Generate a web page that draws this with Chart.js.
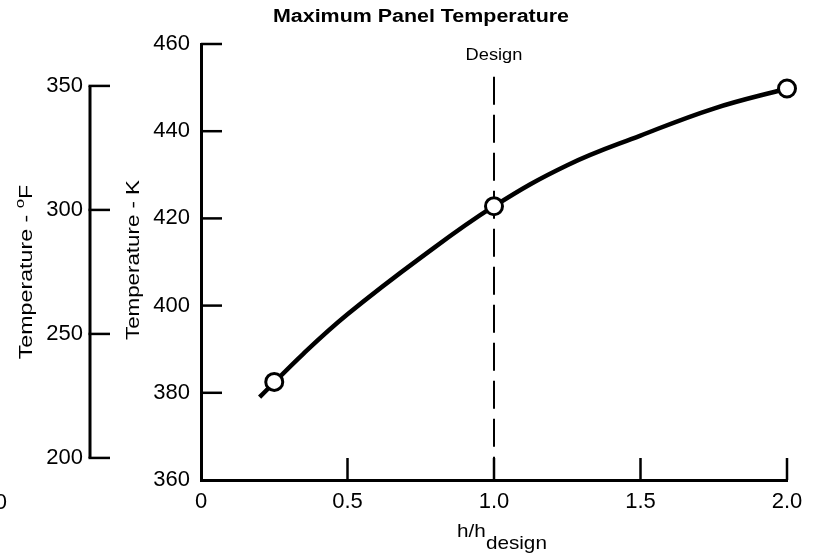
<!DOCTYPE html>
<html>
<head>
<meta charset="utf-8">
<script src="https://cdn.jsdelivr.net/npm/chart.js@4.4.1/dist/chart.umd.min.js"></script>
<style>
  html, body { margin: 0; padding: 0; background: #fff; }
</style>
</head>
<body>
<canvas id="tempChart" width="825" height="557"></canvas>
<script>
// max panel temperature vs heat transfer ratio h/h_design
const ratio = [0.2, 0.35, 0.5, 0.75, 1.0, 1.25, 1.5, 1.75, 2.0];
const tempK = [379, 389, 398, 411, 422.8, 432.2, 439, 445.2, 449.8];

// computed points (open circles)
const pointRatio = [0.25, 1.0, 2.0];
const pointTempK = [382.5, 422.8, 449.8];

const xTicks = [0, 0.5, 1.0, 1.5, 2.0];
const kTicks = [360, 380, 400, 420, 440, 460];
const fTicks = [200, 250, 300, 350];

const designRatio = 1.0;
const designTop = 452.5;

const FONT = '"Liberation Sans", Arial, Helvetica, sans-serif';

function toXY(xs, ys) {
  return xs.map((x, i) => ({ x: x, y: ys[i] }));
}

// draw text squeezed/stretched horizontally
function wideText(ctx, text, x, y, sx) {
  ctx.save();
  ctx.translate(x, y);
  ctx.scale(sx, 1);
  ctx.fillText(text, 0, 0);
  ctx.restore();
}

const decor = {
  id: "decor",
  afterDraw(chart) {
    const ctx = chart.ctx;
    const xs = chart.scales.x;
    const ks = chart.scales.y;
    const fs = chart.scales.yF;
    const area = chart.chartArea;

    ctx.save();
    ctx.strokeStyle = "#000";
    ctx.fillStyle = "#000";
    ctx.lineCap = "butt";

    // inward tick marks
    ctx.lineWidth = 2.5;
    xTicks.forEach((v) => {
      if (v === 0) return;
      const px = xs.getPixelForValue(v);
      ctx.beginPath();
      ctx.moveTo(px, area.bottom);
      ctx.lineTo(px, area.bottom - 22);
      ctx.stroke();
    });
    kTicks.forEach((v) => {
      if (v === 360) return;
      const py = ks.getPixelForValue(v);
      ctx.beginPath();
      ctx.moveTo(area.left, py);
      ctx.lineTo(area.left + 21, py);
      ctx.stroke();
    });

    // deg F axis, only as long as its tick range
    const fx = fs.right - 5;
    ctx.lineWidth = 3;
    ctx.beginPath();
    ctx.moveTo(fx, fs.getPixelForValue(fTicks[0]));
    ctx.lineTo(fx, fs.getPixelForValue(fTicks[fTicks.length - 1]));
    ctx.stroke();
    ctx.lineWidth = 2.5;
    fTicks.forEach((v) => {
      const py = fs.getPixelForValue(v);
      ctx.beginPath();
      ctx.moveTo(fx - 1.5, py);
      ctx.lineTo(fx + 20, py);
      ctx.stroke();
    });

    // title
    ctx.textAlign = "center";
    ctx.textBaseline = "middle";
    ctx.font = "bold 18px " + FONT;
    wideText(ctx, "Maximum Panel Temperature", 421, 17, 1.19);

    // design marker label
    ctx.font = "16px " + FONT;
    wideText(ctx, "Design", xs.getPixelForValue(designRatio), 56, 1.14);

    // x title: h/h with subscript
    ctx.textAlign = "left";
    ctx.textBaseline = "alphabetic";
    ctx.font = "19px " + FONT;
    const w1 = ctx.measureText("h/h").width;
    const w2 = ctx.measureText("design").width;
    const sx = 1.09;
    const x0 = 502 - ((w1 + w2) * sx) / 2;
    wideText(ctx, "h/h", x0, 537, sx);
    wideText(ctx, "design", x0 + w1 * sx, 549, sx);

    // y titles, rotated
    ctx.save();
    ctx.translate(139, 260);
    ctx.rotate(-Math.PI / 2);
    ctx.scale(1.24, 1);
    ctx.font = "18px " + FONT;
    ctx.textAlign = "center";
    ctx.fillText("Temperature - K", 0, 0);
    ctx.restore();

    ctx.save();
    ctx.translate(32, 272);
    ctx.rotate(-Math.PI / 2);
    ctx.scale(1.29, 1);
    ctx.textAlign = "left";
    ctx.font = "18px " + FONT;
    const a = ctx.measureText("Temperature - ").width;
    ctx.font = "13px " + FONT;
    const b = ctx.measureText("o").width;
    ctx.font = "18px " + FONT;
    const c = ctx.measureText("F").width;
    let tx = -(a + b + c) / 2;
    ctx.fillText("Temperature - ", tx, 0);
    tx += a;
    ctx.font = "13px " + FONT;
    ctx.fillText("o", tx, -8);
    tx += b;
    ctx.font = "18px " + FONT;
    ctx.fillText("F", tx, 0);
    ctx.restore();

    // clipped label at the left edge
    ctx.font = "22px " + FONT;
    ctx.textAlign = "right";
    ctx.textBaseline = "middle";
    ctx.fillText("0", 7, 503);

    ctx.restore();
  },
};

const ctx = document.getElementById("tempChart").getContext("2d");
new Chart(ctx, {
  type: "line",
  data: {
    datasets: [
      {
        label: "points",
        data: toXY(pointRatio, pointTempK),
        showLine: false,
        pointRadius: 8.5,
        pointBorderWidth: 3,
        pointBackgroundColor: "#fff",
        pointBorderColor: "#000",
        clip: false,
        order: 0,
      },
      {
        label: "temperature",
        data: toXY(ratio, tempK),
        borderColor: "#000",
        borderWidth: 4.5,
        pointRadius: 0,
        tension: 0.4,
        fill: false,
        clip: false,
        order: 1,
      },
      {
        label: "design",
        data: [
          { x: designRatio, y: designTop },
          { x: designRatio, y: 360 },
        ],
        borderColor: "#000",
        borderWidth: 2,
        borderDash: [28, 10],
        pointRadius: 0,
        order: 2,
      },
    ],
  },
  options: {
    responsive: false,
    animation: false,
    devicePixelRatio: 1,
    layout: { padding: { left: 0, right: 38, top: 44, bottom: 0 } },
    plugins: {
      legend: { display: false },
      tooltip: { enabled: false },
      title: { display: false },
    },
    scales: {
      x: {
        type: "linear",
        position: "bottom",
        min: 0,
        max: 2,
        afterBuildTicks: (s) => { s.ticks = xTicks.map((v) => ({ value: v })); },
        afterFit: (s) => { s.height = 77; },
        grid: { display: false, drawTicks: false },
        border: { display: true, color: "#000", width: 3 },
        ticks: {
          color: "#000",
          font: { family: FONT, size: 22 },
          padding: 9,
          maxRotation: 0,
          callback: (v) => (v === 0 ? "0" : v.toFixed(1)),
        },
      },
      y: {
        type: "linear",
        position: "left",
        weight: 0,
        min: 360,
        max: 460,
        afterBuildTicks: (s) => { s.ticks = kTicks.map((v) => ({ value: v })); },
        afterFit: (s) => { s.width = 106; },
        grid: { display: false, drawTicks: false },
        border: { display: true, color: "#000", width: 3 },
        ticks: {
          color: "#000",
          font: { family: FONT, size: 22 },
          padding: 11,
        },
      },
      yF: {
        type: "linear",
        position: "left",
        weight: 1,
        min: 191.1,
        max: 366.9,
        afterBuildTicks: (s) => { s.ticks = fTicks.map((v) => ({ value: v })); },
        afterFit: (s) => { s.width = 95; },
        grid: { display: false, drawTicks: false },
        border: { display: false },
        ticks: {
          color: "#000",
          font: { family: FONT, size: 22 },
          padding: 12,
        },
      },
    },
  },
  plugins: [decor],
});
</script>
</body>
</html>
